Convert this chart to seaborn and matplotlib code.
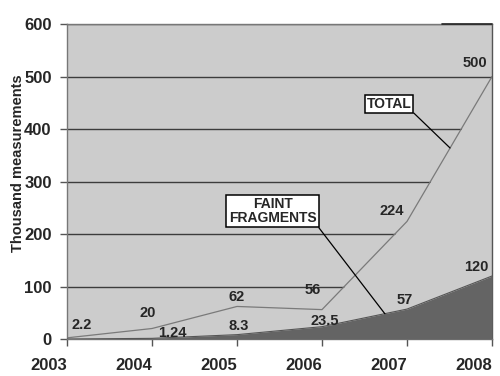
import matplotlib
matplotlib.use("Agg")
import matplotlib.pyplot as plt
import matplotlib.transforms as mtransforms
import seaborn as sns
import pandas as pd

years = [2003, 2004, 2005, 2006, 2007, 2008]
total = [2.2, 20, 62, 56, 224, 500]
faint = [0, 1.24, 8.3, 23.5, 57, 120]
total_labels = ["2.2", "20", "62", "56", "224", "500"]
faint_labels = ["", "1.24", "8.3", "23.5", "57", "120"]

sns.set_theme(style="white")
plt.rcParams['font.family'] = ['Liberation Sans', 'DejaVu Sans']
plt.rcParams['font.weight'] = 'bold'

df = pd.DataFrame({"year": years, "total": total, "faint": faint})

fig = plt.figure(figsize=(5, 3.76), dpi=100)
ax = fig.add_axes([0.134, 0.0984, 0.850, 0.8376])
ax.set_facecolor('#cccccc')

# gridlines below the total area
for v in [100, 200, 300, 400, 500, 600]:
    ax.axhline(v, color='#3c3c3c', lw=1.0, zorder=0.5)

ax.fill_between(df["year"], 0, df["total"], color='#cccccc', zorder=1, lw=0)
sns.lineplot(data=df, x="year", y="total", ax=ax, color='#7a7a7a', lw=0.9, zorder=2)
ax.fill_between(df["year"], 0, df["faint"], color='#646464', zorder=3, lw=0)
sns.lineplot(data=df, x="year", y="faint", ax=ax, color='#555555', lw=0.8, zorder=3)

ax.set_xlim(2003, 2008)
ax.set_ylim(0, 600)
ax.set_xticks(years)
ax.set_xticklabels([str(y) for y in years], fontsize=12, fontweight='bold', ha='right')
shift = mtransforms.ScaledTranslation(2 / 100, 0, fig.dpi_scale_trans)
for lab in ax.get_xticklabels():
    lab.set_transform(lab.get_transform() + shift)
ax.set_yticks([0, 100, 200, 300, 400, 500, 600])
ax.set_yticklabels(["0", "100", "200", "300", "400", "500", "600"], fontsize=12, fontweight='bold')
ax.tick_params(axis='x', direction='out', length=5, width=1, color='#555555', pad=9)
ax.tick_params(axis='y', direction='out', length=5, width=1, color='#555555', pad=6)
ax.tick_params(bottom=True, left=True)
ax.set_xlabel("")
ax.set_ylabel("Thousand measurements", fontsize=10.5, fontweight='bold')
ax.yaxis.set_label_coords(-0.098, 0.559)
for s in ax.spines.values():
    s.set_color('#777777')
    s.set_linewidth(1)
    s.set_visible(True)
ax.spines['right'].set_color('#555555')
ax.plot([0.882, 1.0], [1.0, 1.0], transform=ax.transAxes, color='#222222', lw=1.2,
        clip_on=False, zorder=7)

# data labels (offsets in pixels)
t_off = [(15, 13), (-4, 15.5), (0, 9.5), (-9, 20), (-15, 10), (-17, 14)]
f_off = [(0, 0), (20, 5), (2, 9), (3, 6), (-2, 9), (-16, 9)]
for x, y, lab, (dx, dy) in zip(years, total, total_labels, t_off):
    ax.annotate(lab, (x, y), xytext=(dx, dy), textcoords='offset pixels',
                ha='center', va='center', fontsize=10.5, fontweight='bold', zorder=5)
for x, y, lab, (dx, dy) in zip(years, faint, faint_labels, f_off):
    if lab:
        ax.annotate(lab, (x, y), xytext=(dx, dy), textcoords='offset pixels',
                    ha='center', va='center', fontsize=10.5, fontweight='bold', zorder=5)

# callouts
ax.annotate("TOTAL", xy=(2007.506, 364), xytext=(2006.79, 448),
            ha='center', va='center', fontsize=10, fontweight='bold',
            bbox=dict(boxstyle='square,pad=0.12', fc='white', ec='black', lw=1.1),
            arrowprops=dict(arrowstyle='-', color='black', lw=0.9, shrinkA=0, shrinkB=0,
                            relpos=(1, 0)), zorder=6)
ax.annotate("FAINT\nFRAGMENTS", xy=(2006.74, 48), xytext=(2005.42, 244),
            ha='center', va='center', fontsize=10, fontweight='bold', linespacing=0.95,
            bbox=dict(boxstyle='square,pad=0.18', fc='white', ec='black', lw=1.1),
            arrowprops=dict(arrowstyle='-', color='black', lw=0.9, shrinkA=0, shrinkB=0,
                            relpos=(1, 0)), zorder=6)

fig.savefig("out.png", dpi=100)
